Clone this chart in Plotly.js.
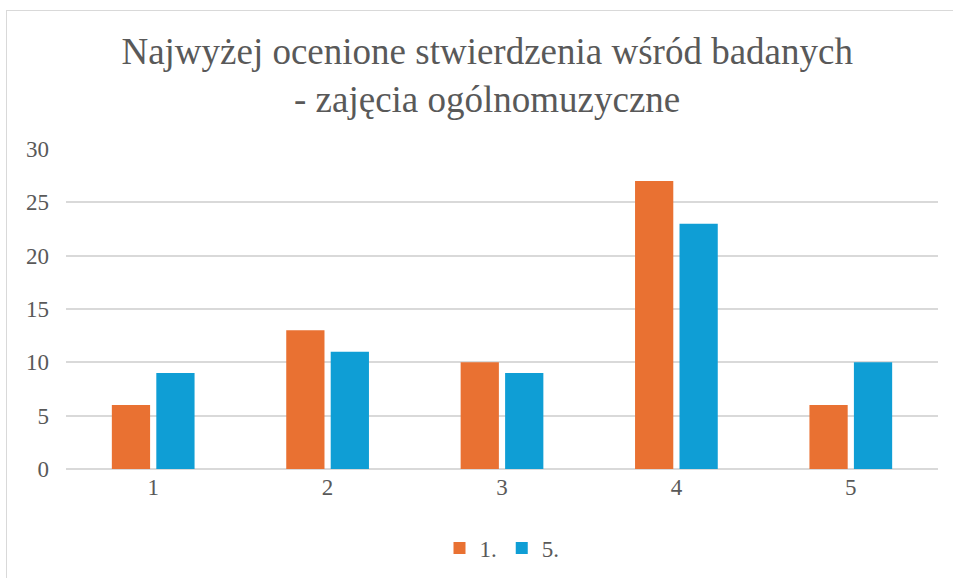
<!DOCTYPE html>
<html>
<head>
<meta charset="utf-8">
<script src="https://cdn.plot.ly/plotly-3.0.1.min.js"></script>
<style>
html,body{margin:0;padding:0;background:#fff;}
#wrap{position:relative;width:953px;height:578px;}
#frame{position:absolute;left:6px;top:10px;right:0;bottom:0;border-left:1.5px solid #d9d9d9;border-top:1.5px solid #d9d9d9;pointer-events:none;z-index:5;}
#chart{position:absolute;left:0;top:0;width:953px;height:578px;}
</style>
</head>
<body>
<div id="wrap"><div id="chart"></div><div id="frame"></div></div>
<script>
const categories = ["1", "2", "3", "4", "5"];
const seriesNames = ["1.", "5."];
const values1 = [6, 13, 10, 27, 6];
const values5 = [9, 11, 9, 23, 10];
const yTicks = [0, 5, 10, 15, 20, 25, 30];

const SERIF = "Liberation Serif";
const GREY = "#595959";

const data = [
  {type: "bar", name: seriesNames[0], x: categories, y: values1, marker: {color: "#E97132"}},
  {type: "bar", name: seriesNames[1], x: categories, y: values5, marker: {color: "#0F9ED5"}}
];

const layout = {
  width: 953, height: 578,
  paper_bgcolor: "#fff", plot_bgcolor: "#fff",
  margin: {l: 66, r: 15, t: 149, b: 109},
  barmode: "group", bargap: 0.49, bargroupgap: 0.14,
  title: {
    text: "Najwyżej ocenione stwierdzenia wśród badanych<br>- zajęcia ogólnomuzyczne",
    font: {family: SERIF, size: 37, color: GREY},
    x: 0.483, xanchor: "center", xref: "paper",
    y: 0.889, yanchor: "middle", yref: "container"
  },
  font: {family: SERIF, color: GREY, size: 23},
  xaxis: {
    type: "category", showgrid: false, zeroline: false, showline: false,
    tickfont: {family: SERIF, size: 23, color: GREY}, ticklabelstandoff: 2
  },
  yaxis: {
    range: [0, 30], tickvals: yTicks, ticktext: yTicks.map(String),
    showgrid: true, gridcolor: "#d9d9d9", gridwidth: 1.5,
    zeroline: true, zerolinecolor: "#d9d9d9", zerolinewidth: 1.5,
    showline: false, tickfont: {family: SERIF, size: 23, color: GREY},
    ticklabelstandoff: 16
  },
  showlegend: true,
  legend: {
    orientation: "h", x: 0.5, xanchor: "center", xref: "paper",
    y: 0.052, yanchor: "middle", yref: "container",
    font: {family: SERIF, size: 23, color: GREY}, itemwidth: 30, tracegroupgap: 0
  }
};

Plotly.newPlot("chart", data, layout, {displayModeBar: false});
</script>
</body>
</html>
